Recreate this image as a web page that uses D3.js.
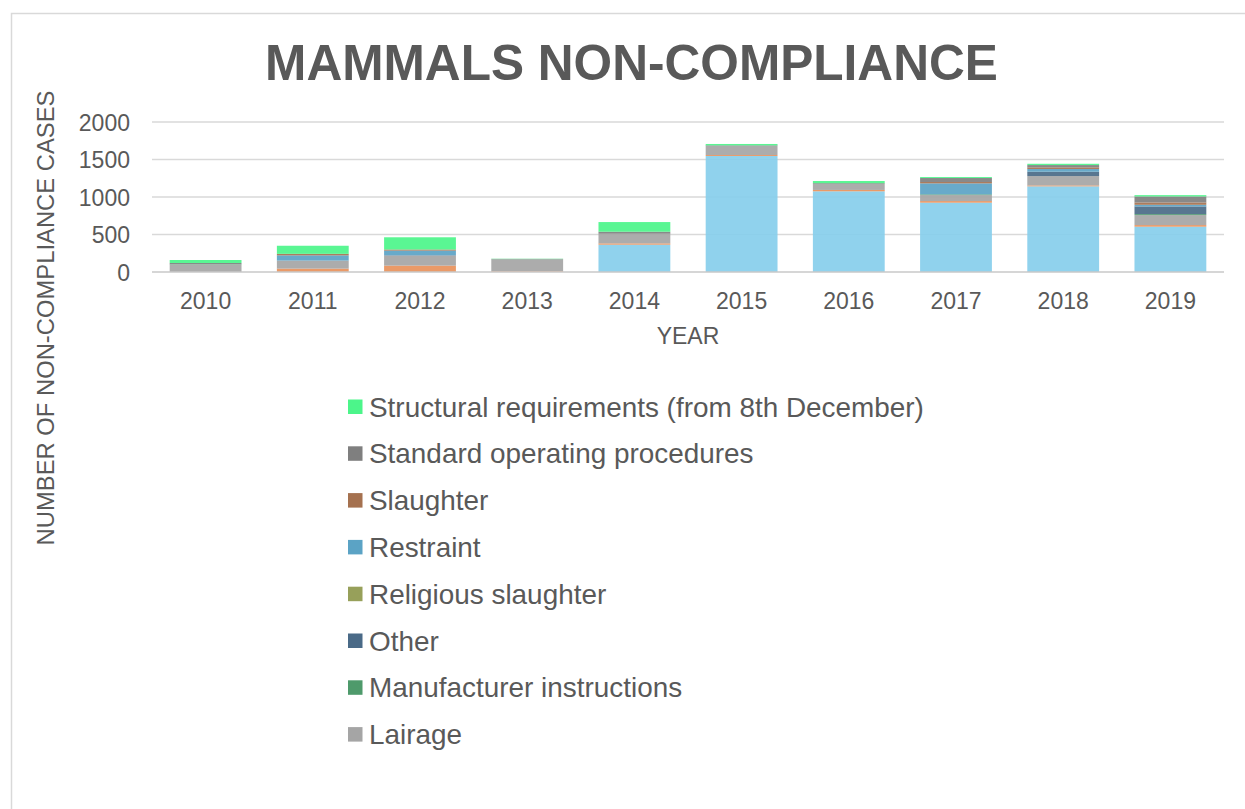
<!DOCTYPE html>
<html>
<head>
<meta charset="utf-8">
<script src="https://cdn.jsdelivr.net/npm/d3@7/dist/d3.min.js"></script>
<style>
  html, body { margin: 0; padding: 0; background: #ffffff; }
  svg { display: block; font-family: "Liberation Sans", Arial, sans-serif; }
</style>
</head>
<body>
<svg id="chart" width="1245" height="809"></svg>
<script>
// ---- Data ----
const years = ["2010","2011","2012","2013","2014","2015","2016","2017","2018","2019"];

// Stack order bottom -> top
const seriesNames = [
  "Certificate of competence",
  "Handling",
  "Lairage",
  "Manufacturer instructions",
  "Other",
  "Religious slaughter",
  "Restraint",
  "Slaughter",
  "Standard operating procedures",
  "Structural requirements (from 8th December)"
];

const certificateOfCompetence = [0, 0, 0, 0, 364, 1547, 1076, 924, 1142, 604];
const handling                = [0, 45, 85, 10, 18, 13, 18, 22, 13, 22];
const lairage                 = [100, 107, 133, 160, 128, 120, 80, 80, 124, 133];
const manufacturerInstructions= [5, 0, 0, 5, 0, 0, 0, 9, 0, 13];
const other                   = [0, 0, 5, 0, 0, 0, 0, 0, 58, 102];
const religiousSlaughter      = [0, 0, 0, 0, 0, 0, 0, 0, 0, 0];
const restraint               = [0, 70, 62, 0, 0, 0, 0, 147, 36, 22];
const slaughter               = [0, 20, 15, 0, 0, 0, 0, 18, 22, 31];
const standardOperating       = [15, 0, 0, 0, 27, 8, 10, 53, 31, 80];
const structuralRequirements  = [40, 108, 163, 2, 129, 19, 29, 13, 17, 18];

const seriesValues = [
  certificateOfCompetence, handling, lairage, manufacturerInstructions, other,
  religiousSlaughter, restraint, slaughter, standardOperating, structuralRequirements
];

const seriesColors = [
  "#87CEEB", "#E8915B", "#A5A5A5", "#4E9A6B", "#4A6A87",
  "#97A05A", "#5BA3C5", "#A5714F", "#7F7F7F", "#4CF58A"
];

// Legend shows only these (top of stack first), the rest is cut off
const legendNames = [
  "Structural requirements (from 8th December)",
  "Standard operating procedures",
  "Slaughter",
  "Restraint",
  "Religious slaughter",
  "Other",
  "Manufacturer instructions",
  "Lairage"
];

const yTicks = [0, 500, 1000, 1500, 2000];

// ---- Build ----
const svg = d3.select("#chart");
const textColor = "#595959";

// chart frame
svg.append("path")
  .attr("d", "M11.5,809 L11.5,13.5 L1245,13.5")
  .attr("fill", "none").attr("stroke", "#d9d9d9").attr("stroke-width", 1.5);

// title
svg.append("text")
  .attr("x", 631.5).attr("y", 80)
  .attr("text-anchor", "middle")
  .attr("font-size", 49.6).attr("font-weight", "bold")
  .attr("fill", textColor)
  .text("MAMMALS NON-COMPLIANCE");

const table = years.map((y, i) => {
  const row = { year: y };
  seriesNames.forEach((s, k) => row[s] = seriesValues[k][i]);
  return row;
});

const x = d3.scaleBand().domain(years).range([152, 1224]).paddingInner(0.33).paddingOuter(0.165);
const y = d3.scaleLinear().domain([0, 2000]).range([272, 122]);
const color = d3.scaleOrdinal().domain(seriesNames).range(seriesColors);

// gridlines
svg.append("g").selectAll("line").data(yTicks.filter(t => t > 0)).join("line")
  .attr("x1", 152).attr("x2", 1224)
  .attr("y1", d => y(d)).attr("y2", d => y(d))
  .attr("stroke", "#d9d9d9").attr("stroke-width", 1.5);

// y axis labels
const yAxis = d3.axisLeft(y).tickValues(yTicks).tickFormat(d3.format("d")).tickSize(0).tickPadding(0);
const gy = svg.append("g").attr("transform", "translate(130,0)").call(yAxis);
gy.select(".domain").remove();
gy.selectAll("text").attr("font-size", 23).attr("fill", textColor).attr("dy", "0.36em")
  .attr("font-family", "Liberation Sans, Arial, sans-serif");

// stacked bars
const stack = d3.stack().keys(seriesNames);
const stacked = stack(table);
svg.append("g").selectAll("g").data(stacked).join("g")
  .attr("fill", d => color(d.key))
  .selectAll("rect").data(d => d).join("rect")
  .attr("x", d => x(d.data.year))
  .attr("width", x.bandwidth())
  .attr("y", d => y(d[1]))
  .attr("height", d => Math.max(0, y(d[0]) - y(d[1])))
  .attr("fill-opacity", 0.92);

// baseline axis
svg.append("line")
  .attr("x1", 152).attr("x2", 1224).attr("y1", y(0)).attr("y2", y(0))
  .attr("stroke", "#c8c8c8").attr("stroke-width", 1.5);

// x axis labels
const xAxis = d3.axisBottom(x).tickSize(0).tickPadding(0);
const gx = svg.append("g").attr("transform", "translate(0,309)").call(xAxis);
gx.select(".domain").remove();
gx.selectAll("text").attr("font-size", 23).attr("fill", textColor)
  .attr("dy", "0").attr("y", 0)
  .attr("font-family", "Liberation Sans, Arial, sans-serif");

// x axis title
svg.append("text").attr("x", 688).attr("y", 344)
  .attr("text-anchor", "middle").attr("font-size", 23).attr("fill", textColor)
  .text("YEAR");

// y axis title
svg.append("text")
  .attr("transform", "translate(54,318) rotate(-90)")
  .attr("text-anchor", "middle").attr("font-size", 23.8).attr("fill", textColor)
  .text("NUMBER OF NON-COMPLIANCE CASES");

// legend
const legend = svg.append("g").selectAll("g").data(legendNames).join("g")
  .attr("transform", (d, i) => `translate(348,${406.5 + i * 46.8})`);
legend.append("rect").attr("x", 0).attr("y", -7).attr("width", 14.5).attr("height", 14.5)
  .attr("fill", d => color(d));
legend.append("text").attr("x", 21).attr("y", 0).attr("dy", "0.36em")
  .attr("font-size", 27.9).attr("fill", textColor)
  .text(d => d);
</script>
</body>
</html>
